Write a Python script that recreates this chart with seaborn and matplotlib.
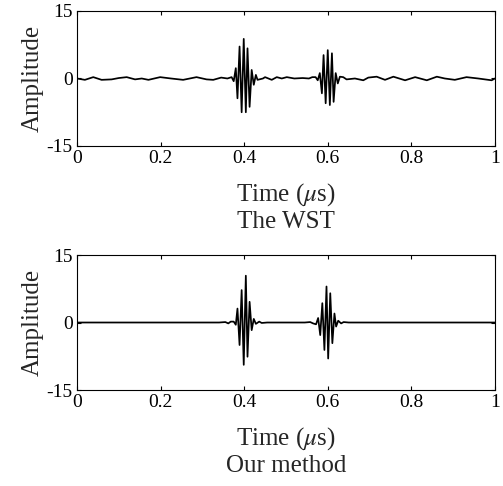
import numpy as np
import pandas as pd
import matplotlib
matplotlib.use('Agg')
import matplotlib.pyplot as plt
import seaborn as sns

# values (time in us, amplitude)
wst_time = [0.000, 0.019, 0.039, 0.059, 0.083, 0.100, 0.119, 0.139, 0.155, 0.171,
            0.199, 0.225, 0.254, 0.286, 0.310, 0.326, 0.345, 0.360,
            0.370, 0.375, 0.380, 0.384, 0.389, 0.394, 0.399, 0.404, 0.408, 0.413,
            0.418, 0.423, 0.428, 0.432,
            0.445, 0.450, 0.466, 0.478, 0.490, 0.502, 0.520, 0.540, 0.555, 0.563,
            0.571, 0.576, 0.581, 0.586, 0.590, 0.595, 0.600, 0.605, 0.610, 0.614,
            0.619, 0.624, 0.629,
            0.637, 0.645, 0.665, 0.685, 0.697, 0.717, 0.737, 0.757, 0.785, 0.809,
            0.837, 0.861, 0.880, 0.904, 0.932, 0.960, 0.992, 1.000]
wst_amp = [0.0, -0.3, 0.3, -0.3, -0.2, 0.1, 0.3, -0.2, 0.0, -0.3,
           0.3, 0.0, -0.3, 0.3, -0.2, -0.3, 0.2, 0.0,
           0.3, -0.6, 2.3, -4.4, 7.1, -7.5, 8.8, -7.5, 6.7, -6.3,
           1.9, -1.4, 0.8, -0.3,
           0.0, 0.3, -0.3, 0.3, 0.0, 0.3, 0.0, 0.1, 0.0, 0.3,
           0.3, -0.4, 1.2, -3.3, 5.2, -5.5, 6.3, -5.9, 5.6, -5.2,
           1.2, -1.1, 0.4,
           0.3, -0.2, 0.0, -0.4, 0.2, 0.4, -0.3, 0.4, -0.4, 0.3,
           -0.4, 0.4, 0.0, -0.3, 0.3, 0.0, -0.4, 0.0]

our_time = [0.000, 0.340, 0.355, 0.362, 0.368,
            0.375, 0.380, 0.384, 0.389, 0.394, 0.399, 0.404, 0.408, 0.413,
            0.418, 0.423, 0.428,
            0.436, 0.442, 0.455, 0.545, 0.558, 0.565,
            0.572, 0.577, 0.582, 0.587, 0.592, 0.597, 0.601, 0.606, 0.611,
            0.616, 0.620, 0.625,
            0.632, 0.638, 0.650, 1.000]
our_amp = [0.0, 0.0, 0.1, -0.2, 0.2,
           0.2, -0.5, 3.1, -5.0, 7.2, -9.4, 10.4, -7.6, 4.6,
           -1.7, 0.8, -0.3,
           0.2, -0.1, 0.0, 0.0, 0.1, -0.2,
           -0.4, 1.0, -2.8, 4.3, -6.1, 8.0, -8.0, 6.5, -4.6,
           2.0, -0.9, 0.4,
           -0.2, 0.1, 0.0, 0.0]

panel_titles = ['The WST', 'Our method']
xticks = [0, 0.2, 0.4, 0.6, 0.8, 1]
xtick_labels = ['0', '0.2', '0.4', '0.6', '0.8', '1']
yticks = [-15, 0, 15]

sns.set_style('ticks')
plt.rcParams['font.family'] = ['Liberation Serif', 'DejaVu Serif']
plt.rcParams['mathtext.fontset'] = 'stix'
plt.rcParams['axes.unicode_minus'] = False
plt.rcParams['xtick.direction'] = 'in'
plt.rcParams['ytick.direction'] = 'in'

fig = plt.figure(figsize=(5.03, 4.86), dpi=100)
ax1 = fig.add_axes([0.153, 0.6996, 0.831, 0.2778])
ax2 = fig.add_axes([0.153, 0.1975, 0.831, 0.2778])

series = [(wst_time, wst_amp), (our_time, our_amp)]
for ax, (t, a), ttl in zip([ax1, ax2], series, panel_titles):
    df = pd.DataFrame({'time': t, 'amp': a})
    sns.lineplot(data=df, x='time', y='amp', ax=ax, color='black',
                 linewidth=1.25, estimator=None, sort=True)
    ax.set_xlim(0, 1)
    ax.set_ylim(-15, 15)
    ax.set_xticks(xticks)
    ax.set_xticklabels(xtick_labels)
    ax.set_yticks(yticks)
    ax.tick_params(labelsize=14, length=3, width=0.8, top=True, right=True,
                   colors='black', pad=3)
    for s in ax.spines.values():
        s.set_visible(True)
        s.set_linewidth(0.8)
        s.set_color('black')
    ax.set_ylabel('Amplitude', fontsize=18, labelpad=2)
    ax.set_xlabel('Time ($\\mu$s)', fontsize=18)
    ax.xaxis.set_label_coords(0.5, -0.26)
    ax.text(0.5, -0.563, ttl, transform=ax.transAxes, ha='center',
            va='center', fontsize=18)

plt.savefig('out.png', dpi=100)
